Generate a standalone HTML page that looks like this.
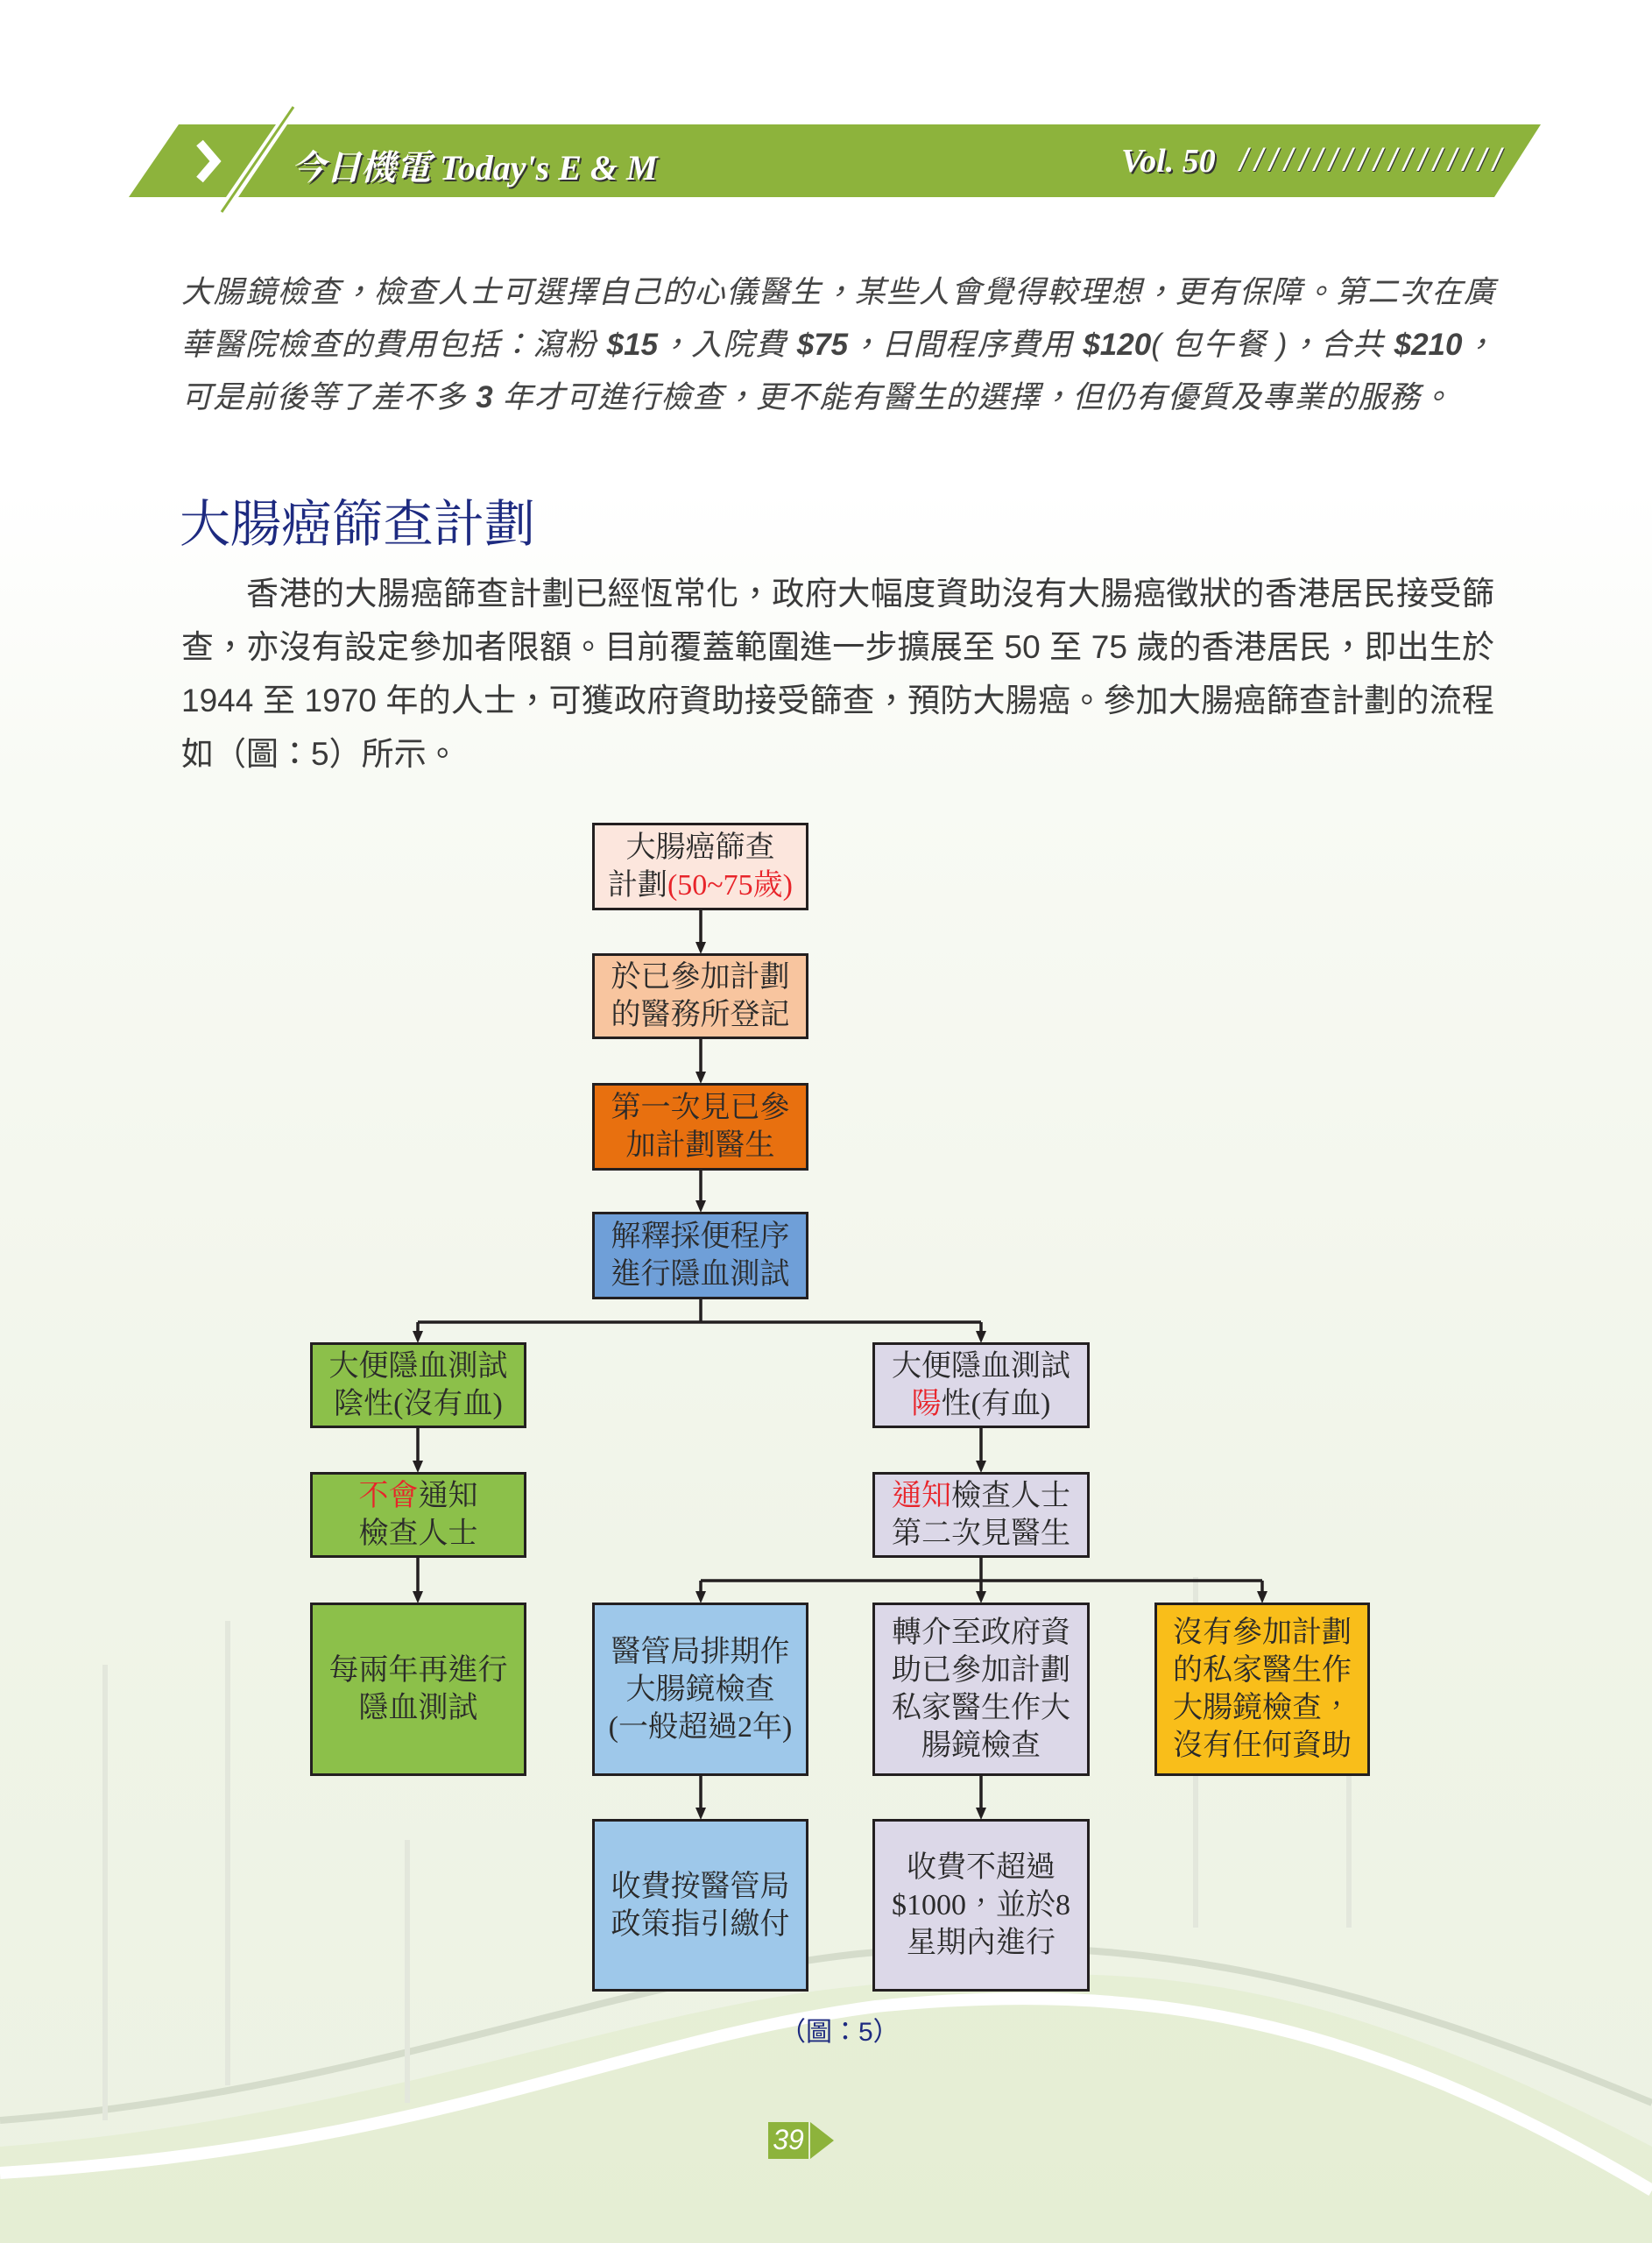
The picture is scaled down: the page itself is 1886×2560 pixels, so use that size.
<!DOCTYPE html>
<html><head><meta charset="utf-8"><style>
*{margin:0;padding:0;box-sizing:border-box}
body{width:1886px;height:2560px;position:relative;overflow:hidden;background:linear-gradient(to bottom,#ffffff 0px,#ffffff 560px,#f8faf4 900px,#f0f4e8 1800px,#ecf2e2 2560px);font-family:"Liberation Sans","Noto Sans CJK TC",sans-serif}
.abs{position:absolute}
.p{position:absolute;left:207px;width:1499px;font-size:37px;color:#3a3a3a;text-align:justify;text-align-last:justify;white-space:nowrap;line-height:44px}
.it{font-style:italic;color:#444;font-size:35px}
.box{position:absolute;border:3px solid #231f20;display:flex;align-items:center;justify-content:center;text-align:center;font-family:"Liberation Serif","Noto Serif CJK TC","Noto Serif CJK SC",serif;font-size:34px;line-height:43px;color:#2a2a2a}
.r{color:#e8242a}
</style></head><body>
<svg class="abs" style="left:0;top:0" width="1886" height="2560">
 <path d="M0 2450 C400 2420 700 2300 950 2270 C1300 2230 1500 2250 1886 2450 L1886 2560 L0 2560Z" fill="#e2edcf" opacity="0.7"/>
 <path d="M0 2480 C500 2450 700 2330 1000 2290 C1300 2260 1550 2300 1886 2500" fill="none" stroke="#ffffff" stroke-width="14"/>
 <path d="M0 2420 C400 2390 700 2260 980 2230 C1300 2200 1550 2260 1886 2400" fill="none" stroke="#d5dccb" stroke-width="8"/>
 <g stroke="#e3e7dc" stroke-width="6"><line x1="120" y1="1900" x2="120" y2="2420"/><line x1="260" y1="1850" x2="260" y2="2380"/><line x1="465" y1="2100" x2="465" y2="2400"/><line x1="1365" y1="1800" x2="1365" y2="2200"/><line x1="1540" y1="1950" x2="1540" y2="2200"/></g>
 <polygon points="147,225 204,142 315,142 258,225" fill="#8db33c"/>
 <polygon points="272,225 328,142 1759,142 1706,225" fill="#8db33c"/>
 <line x1="253" y1="242" x2="335" y2="122" stroke="#8db33c" stroke-width="3"/>
 <polyline points="228,163 246,184 228,205" fill="none" stroke="#fff" stroke-width="10"/>
 <g stroke="#231f20" stroke-width="3.5" fill="none">
  <line x1="800" y1="1039" x2="800" y2="1078"/>
  <line x1="800" y1="1186" x2="800" y2="1226"/>
  <line x1="800" y1="1336" x2="800" y2="1373"/>
  <line x1="800" y1="1483" x2="800" y2="1509"/>
  <line x1="477" y1="1509" x2="1120" y2="1509"/>
  <line x1="477" y1="1509" x2="477" y2="1522"/>
  <line x1="1120" y1="1509" x2="1120" y2="1522"/>
  <line x1="477" y1="1630" x2="477" y2="1670"/>
  <line x1="1120" y1="1630" x2="1120" y2="1670"/>
  <line x1="477" y1="1778" x2="477" y2="1819"/>
  <line x1="1120" y1="1778" x2="1120" y2="1804"/>
  <line x1="800" y1="1804" x2="1441" y2="1804"/>
  <line x1="800" y1="1804" x2="800" y2="1819"/>
  <line x1="1120" y1="1804" x2="1120" y2="1819"/>
  <line x1="1441" y1="1804" x2="1441" y2="1819"/>
  <line x1="800" y1="2027" x2="800" y2="2066"/>
  <line x1="1120" y1="2027" x2="1120" y2="2066"/>
 </g>
 <g fill="#231f20">
  <polygon points="794,1075 806,1075 800,1089"/>
  <polygon points="794,1223 806,1223 800,1237"/>
  <polygon points="794,1370 806,1370 800,1384"/>
  <polygon points="471,1519 483,1519 477,1533"/>
  <polygon points="1114,1519 1126,1519 1120,1533"/>
  <polygon points="471,1667 483,1667 477,1681"/>
  <polygon points="1114,1667 1126,1667 1120,1681"/>
  <polygon points="471,1816 483,1816 477,1830"/>
  <polygon points="794,1816 806,1816 800,1830"/>
  <polygon points="1114,1816 1126,1816 1120,1830"/>
  <polygon points="1435,1816 1447,1816 1441,1830"/>
  <polygon points="794,2063 806,2063 800,2077"/>
  <polygon points="1114,2063 1126,2063 1120,2077"/>
 </g>
 <rect x="877" y="2422" width="46" height="42" fill="#8db33c"/>
 <polygon points="925,2422 952,2443 925,2464" fill="#8db33c"/>
</svg>

<div class="abs" style="left:332px;top:160px;font-family:'Liberation Serif','Noto Serif CJK TC',serif;font-style:italic;font-weight:bold;font-size:40px;color:#fff;text-shadow:2px 2px 0 #333">今日機電 Today's E &amp; M</div>
<div class="abs" style="left:1280px;top:162px;font-family:'Liberation Serif',serif;font-style:italic;font-weight:bold;font-size:38px;color:#fff;text-shadow:2px 2px 0 #333">Vol. 50</div>
<div class="abs" style="left:1415px;top:162px;font-family:'Liberation Sans',sans-serif;font-style:italic;font-size:36px;color:#fff;letter-spacing:7px;text-shadow:1px 1px 0 #333">//////////////////</div>

<div class="p it" style="top:312px">大腸鏡檢查，檢查人士可選擇自己的心儀醫生，某些人會覺得較理想，更有保障。第二次在廣</div>
<div class="p it" style="top:372px">華醫院檢查的費用包括：瀉粉 <b>$15</b>，入院費 <b>$75</b>，日間程序費用 <b>$120</b>( 包午餐 )，合共 <b>$210</b>，</div>
<div class="p it" style="top:432px;width:1450px">可是前後等了差不多 <b>3</b> 年才可進行檢查，更不能有醫生的選擇，但仍有優質及專業的服務。</div>

<div class="abs" style="left:205px;top:551px;font-size:58px;color:#1d2a80;font-family:'Liberation Serif','Noto Serif CJK TC',serif">大腸癌篩查計劃</div>

<div class="p" style="top:656px;left:281px;width:1425px">香港的大腸癌篩查計劃已經恆常化，政府大幅度資助沒有大腸癌徵狀的香港居民接受篩</div>
<div class="p" style="top:717px">查，亦沒有設定參加者限額。目前覆蓋範圍進一步擴展至 50 至 75 歲的香港居民，即出生於</div>
<div class="p" style="top:778px">1944 至 1970 年的人士，可獲政府資助接受篩查，預防大腸癌。參加大腸癌篩查計劃的流程</div>
<div class="p" style="top:839px;text-align-last:left">如（圖：5）所示。</div>

<div class="box" style="left:676px;top:939px;width:247px;height:100px;background:#fce6dd"><span>大腸癌篩查<br>計劃<span class="r">(50~75歲)</span></span></div>
<div class="box" style="left:676px;top:1088px;width:247px;height:98px;background:#f8c59f"><span>於已參加計劃<br>的醫務所登記</span></div>
<div class="box" style="left:676px;top:1236px;width:247px;height:100px;background:#e8700f"><span>第一次見已參<br>加計劃醫生</span></div>
<div class="box" style="left:676px;top:1383px;width:247px;height:100px;background:#6f9fd8"><span>解釋採便程序<br>進行隱血測試</span></div>

<div class="box" style="left:354px;top:1532px;width:247px;height:98px;background:#8cc04a"><span>大便隱血測試<br>陰性(沒有血)</span></div>
<div class="box" style="left:996px;top:1532px;width:248px;height:98px;background:#dcd8e8"><span>大便隱血測試<br><span class="r">陽</span>性(有血)</span></div>
<div class="box" style="left:354px;top:1680px;width:247px;height:98px;background:#8cc04a"><span><span class="r">不會</span>通知<br>檢查人士</span></div>
<div class="box" style="left:996px;top:1680px;width:248px;height:98px;background:#dcd8e8"><span><span class="r">通知</span>檢查人士<br>第二次見醫生</span></div>

<div class="box" style="left:354px;top:1829px;width:247px;height:198px;background:#8cc04a"><span>每兩年再進行<br>隱血測試</span></div>
<div class="box" style="left:676px;top:1829px;width:247px;height:198px;background:#9ec8ea"><span>醫管局排期作<br>大腸鏡檢查<br>(一般超過2年)</span></div>
<div class="box" style="left:996px;top:1829px;width:248px;height:198px;background:#dcd8e8"><span>轉介至政府資<br>助已參加計劃<br>私家醫生作大<br>腸鏡檢查</span></div>
<div class="box" style="left:1318px;top:1829px;width:246px;height:198px;background:#f9be1a;text-align:left"><span>沒有參加計劃<br>的私家醫生作<br>大腸鏡檢查，<br>沒有任何資助</span></div>

<div class="box" style="left:676px;top:2076px;width:247px;height:197px;background:#9ec8ea"><span>收費按醫管局<br>政策指引繳付</span></div>
<div class="box" style="left:996px;top:2076px;width:248px;height:197px;background:#dcd8e8"><span>收費不超過<br>$1000，並於8<br>星期內進行</span></div>

<div class="abs" style="left:890px;top:2294px;font-size:30px;color:#1d2a80">（圖：5）</div>
<div class="abs" style="left:879px;top:2424px;width:42px;text-align:center;font-size:32px;font-style:italic;color:#fff">39</div>
</body></html>
